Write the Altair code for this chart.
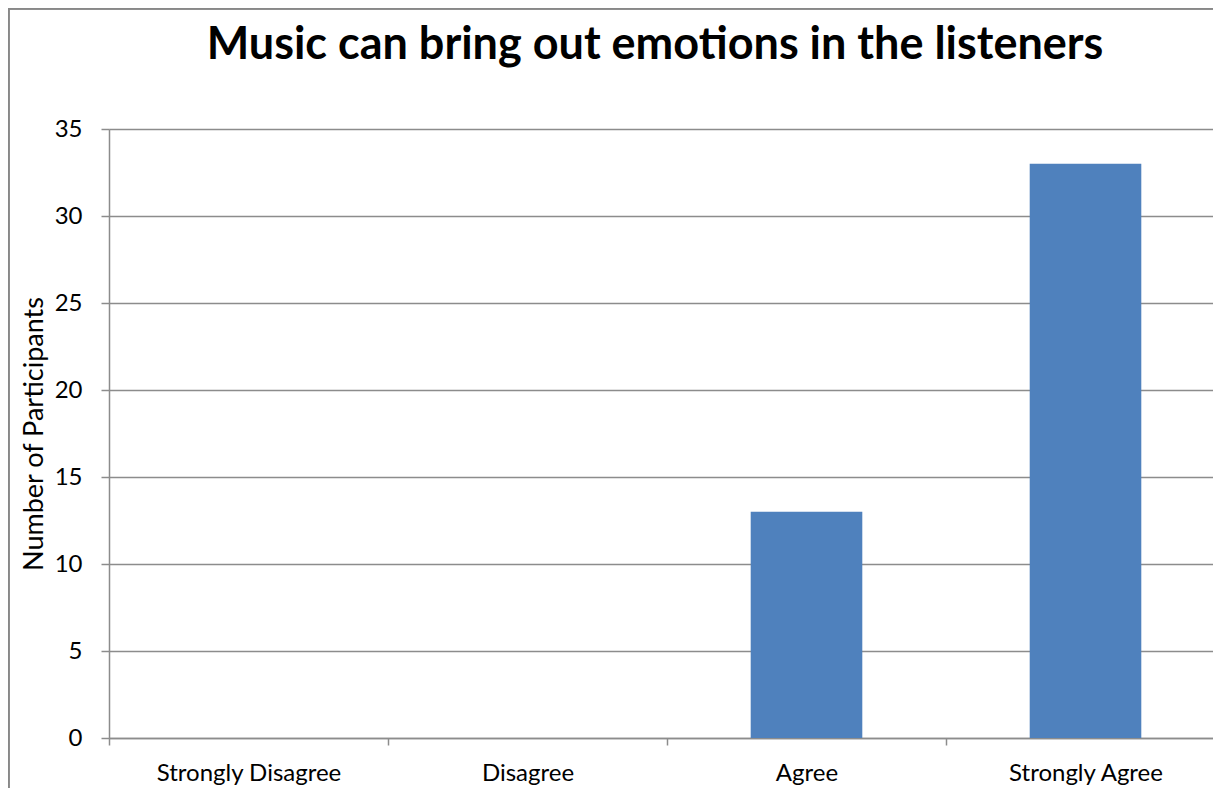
import altair as alt
import pandas as pd

categories = ["Strongly Disagree", "Disagree", "Agree", "Strongly Agree"]
counts = [0, 0, 13, 33]
title_text = "Music can bring out emotions in the listeners"
y_title = "Number of Participants"
y_ticks = [0, 5, 10, 15, 20, 25, 30, 35]

df = pd.DataFrame({"category": categories, "count": counts})

FONT = "Lato"
GRID = "#8c8c8c"

bars = alt.Chart(df).mark_bar(color="#4F81BD", width=alt.RelativeBandSize(0.4)).encode(
    x=alt.X("category:N", sort=categories,
            scale=alt.Scale(paddingInner=0, paddingOuter=0, range=[0, 1116]),
            axis=alt.Axis(title=None, labelAngle=0, labelFont=FONT, labelFontSize=24,
                          labelColor="#000000", labelPadding=16, labelLimit=500,
                          tickBand="extent",
                          tickSize=7, tickColor=GRID, domainColor=GRID, domainWidth=1.5,
                          tickWidth=1.5, grid=False)),
    y=alt.Y("count:Q", scale=alt.Scale(domain=[0, 35], nice=False),
            axis=alt.Axis(values=y_ticks, title=y_title, titleFont=FONT, titleFontSize=27,
                          titleFontWeight="normal", titleColor="#000000", titlePadding=6,
                          labelFont=FONT, labelFontSize=24, labelColor="#000000",
                          labelPadding=19, tickSize=8, tickColor=GRID, tickWidth=1.5,
                          domainColor=GRID, domainWidth=1.5, grid=True, gridColor=GRID,
                          gridWidth=1.5)),
)

border_left = alt.Chart(df).mark_rule(color="#888888", strokeWidth=2, clip=False).encode(
    x=alt.value(-100.5), y=alt.value(-120.5), y2=alt.value(680))
border_top = alt.Chart(df).mark_rule(color="#888888", strokeWidth=2, clip=False).encode(
    x=alt.value(-100.5), x2=alt.value(1104), y=alt.value(-120.5))

chart = alt.layer(bars, border_left, border_top).properties(
    width=1104, height=609,
    title=alt.TitleParams(title_text, font=FONT, fontSize=45, fontWeight="bold",
                          color="#000000", anchor="middle", offset=10, dx=-6,
                          baseline="alphabetic", dy=106),
    autosize=alt.AutoSizeParams(type="none"),
    padding={"left": 101, "top": 121, "right": 0, "bottom": 50},
).configure_view(stroke=None).configure(background="white")

chart.save("out.html", embed_options={"renderer": "svg", "actions": False})
